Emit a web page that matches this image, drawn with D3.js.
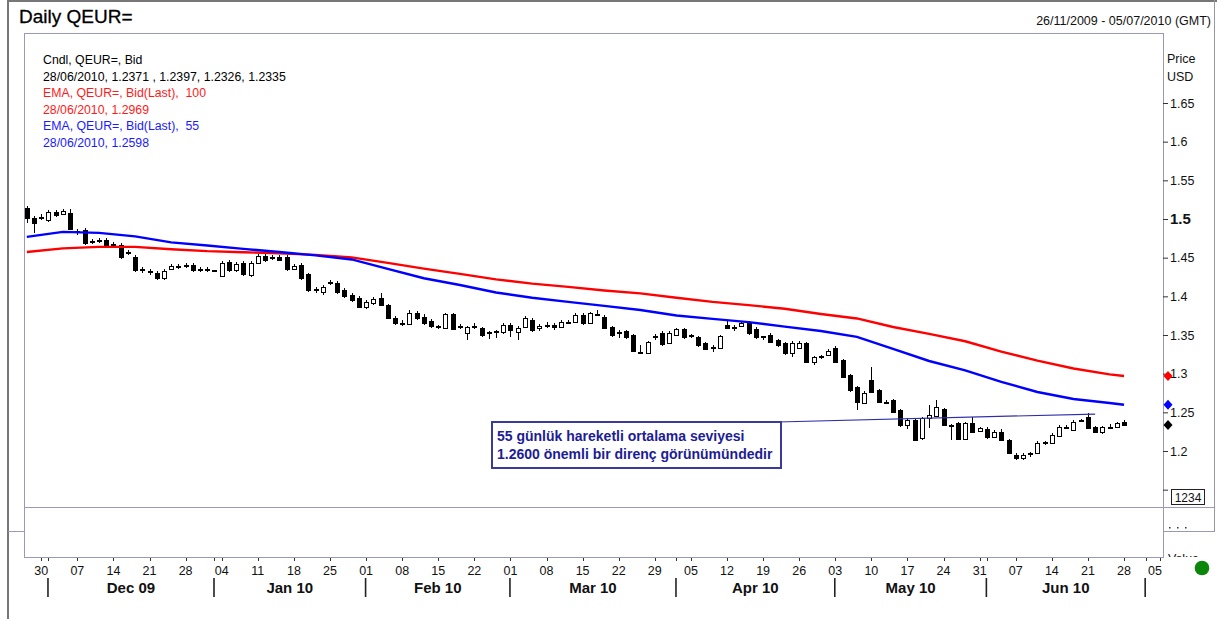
<!DOCTYPE html>
<html>
<head>
<meta charset="utf-8">
<script src="https://cdn.jsdelivr.net/npm/d3@7"></script>
<style>
body { margin: 0; background: #fff; }
svg { display: block; font-family: "Liberation Sans", Arial, sans-serif; }
</style>
</head>
<body>
<div id="chart"></div>
<script>
// daily candles, 26/11/2009 .. 28/06/2010 (weekdays)
var opens = [1.5144,1.5014,1.5020,1.4988,1.5092,1.5066,1.5079,1.4840,1.4859,1.4710,
 1.4723,1.4730,1.4671,1.4665,1.4568,1.4510,1.4348,1.4322,1.4303,1.4238,
 1.4355,1.4386,1.4399,1.4406,1.4348,1.4342,1.4335,1.4264,1.4445,1.4342,
 1.4432,1.4277,1.4432,1.4523,1.4504,1.4510,1.4510,1.4355,1.4406,1.4290,
 1.4089,1.4057,1.4180,1.4173,1.4083,1.4018,1.3979,1.3862,1.3914,1.3979,
 1.3888,1.3720,1.3661,1.3642,1.3785,1.3733,1.3681,1.3610,1.3591,1.3772,
 1.3610,1.3526,1.3610,1.3591,1.3533,1.3546,1.3539,1.3629,1.3539,1.3604,
 1.3694,1.3591,1.3635,1.3629,1.3604,1.3674,1.3668,1.3759,1.3655,1.3778,
 1.3733,1.3604,1.3526,1.3552,1.3500,1.3281,1.3268,1.3481,1.3526,1.3397,
 1.3500,1.3578,1.3494,1.3475,1.3397,1.3339,1.3332,1.3629,1.3597,1.3617,
 1.3655,1.3578,1.3481,1.3500,1.3436,1.3397,1.3268,1.3332,1.3397,1.3151,
 1.3223,1.3242,1.3332,1.3177,1.2983,1.2828,1.2621,1.2919,1.2789,1.2640,
 1.2660,1.2530,1.2336,1.2401,1.2168,1.2427,1.2453,1.2543,1.2342,1.2362,
 1.2155,1.2362,1.2259,1.2284,1.2181,1.2246,1.2142,1.1949,1.1910,1.1968,
 1.1975,1.2110,1.2103,1.2194,1.2316,1.2271,1.2395,1.2440,1.2310,1.2246,
 1.2316,1.2310,1.2371];
var highs = [1.5170,1.5040,1.5066,1.5118,1.5118,1.5131,1.5131,1.4872,1.4885,1.4743,
 1.4749,1.4756,1.4704,1.4691,1.4600,1.4536,1.4380,1.4355,1.4329,1.4355,
 1.4419,1.4419,1.4432,1.4432,1.4380,1.4374,1.4342,1.4458,1.4471,1.4445,
 1.4458,1.4458,1.4549,1.4549,1.4536,1.4536,1.4536,1.4419,1.4432,1.4303,
 1.4122,1.4148,1.4212,1.4199,1.4109,1.4044,1.4005,1.3953,1.3992,1.4044,
 1.3901,1.3746,1.3694,1.3824,1.3811,1.3772,1.3707,1.3629,1.3785,1.3785,
 1.3642,1.3617,1.3655,1.3604,1.3552,1.3565,1.3655,1.3655,1.3617,1.3746,
 1.3720,1.3642,1.3668,1.3655,1.3694,1.3694,1.3785,1.3785,1.3798,1.3824,
 1.3759,1.3617,1.3565,1.3565,1.3513,1.3371,1.3423,1.3513,1.3552,1.3552,
 1.3591,1.3591,1.3513,1.3488,1.3410,1.3371,1.3500,1.3681,1.3629,1.3681,
 1.3681,1.3604,1.3488,1.3526,1.3449,1.3410,1.3423,1.3423,1.3410,1.3229,
 1.3242,1.3320,1.3358,1.3190,1.2996,1.2841,1.2776,1.3087,1.2802,1.2660,
 1.2673,1.2543,1.2427,1.2414,1.2440,1.2595,1.2660,1.2556,1.2349,1.2375,
 1.2375,1.2440,1.2310,1.2310,1.2271,1.2284,1.2155,1.1975,1.1975,1.1988,
 1.2129,1.2129,1.2233,1.2336,1.2336,1.2401,1.2414,1.2491,1.2323,1.2323,
 1.2349,1.2375,1.2397];
var lows = [1.4949,1.4820,1.4988,1.4962,1.5027,1.5053,1.4859,1.4794,1.4665,1.4678,
 1.4691,1.4626,1.4639,1.4484,1.4536,1.4316,1.4303,1.4277,1.4212,1.4212,
 1.4342,1.4355,1.4367,1.4316,1.4316,1.4310,1.4322,1.4251,1.4316,1.4316,
 1.4264,1.4251,1.4419,1.4445,1.4471,1.4458,1.4329,1.4342,1.4212,1.4057,
 1.4044,1.4018,1.4148,1.4031,1.3979,1.3927,1.3849,1.3836,1.3888,1.3875,
 1.3707,1.3629,1.3617,1.3629,1.3694,1.3629,1.3591,1.3578,1.3578,1.3565,
 1.3578,1.3436,1.3578,1.3475,1.3449,1.3462,1.3513,1.3475,1.3436,1.3591,
 1.3539,1.3552,1.3591,1.3565,1.3591,1.3642,1.3655,1.3629,1.3642,1.3746,
 1.3578,1.3475,1.3462,1.3449,1.3281,1.3255,1.3255,1.3436,1.3358,1.3384,
 1.3488,1.3449,1.3462,1.3345,1.3307,1.3281,1.3320,1.3578,1.3552,1.3604,
 1.3500,1.3449,1.3436,1.3397,1.3345,1.3242,1.3216,1.3320,1.3138,1.3113,
 1.3190,1.3229,1.3138,1.2944,1.2763,1.2530,1.2608,1.2750,1.2621,1.2608,
 1.2491,1.2310,1.2284,1.2129,1.2142,1.2297,1.2440,1.2323,1.2142,1.2142,
 1.2142,1.2233,1.2246,1.2155,1.2168,1.2129,1.1962,1.1884,1.1884,1.1923,
 1.1962,1.2078,1.2090,1.2181,1.2284,1.2259,1.2375,1.2284,1.2233,1.2220,
 1.2284,1.2297,1.2326];
var closes = [1.5014,1.4949,1.5027,1.5092,1.5053,1.5105,1.4872,1.4833,1.4691,1.4704,
 1.4717,1.4652,1.4665,1.4510,1.4561,1.4342,1.4342,1.4316,1.4238,1.4329,
 1.4393,1.4380,1.4393,1.4342,1.4342,1.4348,1.4329,1.4432,1.4342,1.4419,
 1.4290,1.4432,1.4523,1.4471,1.4497,1.4471,1.4355,1.4393,1.4238,1.4083,
 1.4083,1.4122,1.4173,1.4057,1.4005,1.3953,1.3862,1.3927,1.3966,1.3888,
 1.3720,1.3655,1.3655,1.3785,1.3720,1.3655,1.3617,1.3604,1.3772,1.3578,
 1.3604,1.3604,1.3604,1.3500,1.3526,1.3539,1.3629,1.3565,1.3591,1.3720,
 1.3565,1.3617,1.3629,1.3604,1.3668,1.3668,1.3759,1.3655,1.3785,1.3772,
 1.3591,1.3500,1.3539,1.3475,1.3294,1.3268,1.3410,1.3475,1.3384,1.3526,
 1.3578,1.3475,1.3488,1.3371,1.3320,1.3332,1.3488,1.3591,1.3591,1.3655,
 1.3526,1.3475,1.3475,1.3410,1.3371,1.3268,1.3397,1.3397,1.3151,1.3216,
 1.3216,1.3294,1.3151,1.2957,1.2789,1.2634,1.2750,1.2763,1.2634,1.2634,
 1.2504,1.2336,1.2401,1.2142,1.2427,1.2465,1.2569,1.2336,1.2336,1.2155,
 1.2362,1.2246,1.2297,1.2181,1.2246,1.2142,1.1975,1.1910,1.1949,1.1962,
 1.2103,1.2103,1.2207,1.2310,1.2310,1.2375,1.2388,1.2297,1.2246,1.2310,
 1.2310,1.2362,1.2335];

var emaDays = [0,5,10,15,20,25,30,35,40,45,50,55,60,65,70,75,80,85,90,95,100,105,110,115,120,125,130,135,140,145,150,152];
var ema55 = [1.4769,1.4833,1.4820,1.4775,1.4697,1.4658,1.4613,1.4574,1.4529,1.4477,1.4355,1.4234,1.4147,1.4050,1.3982,1.3928,1.3876,1.3824,1.3753,1.3708,1.3666,1.3609,1.3552,1.3475,1.3320,1.3164,1.3042,1.2893,1.2763,1.2673,1.2621,1.2598];
var ema100 = [1.4574,1.4620,1.4639,1.4639,1.4609,1.4584,1.4571,1.4555,1.4536,1.4503,1.4432,1.4358,1.4290,1.4219,1.4164,1.4122,1.4076,1.4038,1.3981,1.3928,1.3886,1.3840,1.3772,1.3714,1.3604,1.3514,1.3419,1.3285,1.3168,1.3067,1.2991,1.2969];

// hand drawn resistance line
var trendDates = ["2010-04-21", "2010-06-22"];
var trendValues = [1.2375, 1.2478];

var yTicks = [1.15, 1.2, 1.25, 1.3, 1.35, 1.4, 1.45, 1.5, 1.55, 1.6, 1.65];
var monthLabels = ["Dec 09", "Jan 10", "Feb 10", "Mar 10", "Apr 10", "May 10", "Jun 10"];
var legendLines = [
  ["Cndl, QEUR=, Bid", "#000"],
  ["28/06/2010, 1.2371 , 1.2397, 1.2326, 1.2335", "#000"],
  ["EMA, QEUR=, Bid(Last),  100", "#ff1a1a"],
  ["28/06/2010, 1.2969", "#ff1a1a"],
  ["EMA, QEUR=, Bid(Last),  55", "#1a1aff"],
  ["28/06/2010, 1.2598", "#1a1aff"]
];
var noteLines = ["55 günlük hareketli ortalama seviyesi", "1.2600 önemli bir direnç görünümündedir"];

var width = 1217, height = 619;
var plotLeft = 24, plotRight = 1163, plotTop = 33, priceBottom = 507, panelBottom = 557;

// trading days (weekdays) from 26/11/2009 to 05/07/2010
var days = d3.timeDay.range(new Date(2009, 10, 26), new Date(2010, 6, 6))
  .filter(function(d){ return d.getDay() !== 0 && d.getDay() !== 6; });
var dayKey = d3.timeFormat("%Y-%m-%d");
function dayIndex(s) {
  return days.findIndex(function(d){ return dayKey(d) === s; });
}

var x = d3.scaleLinear().domain([-0.39, 157.4]).range([plotLeft, plotRight]);
var y = d3.scaleLinear().domain([1.2, 1.65]).range([451, 103]);

var svg = d3.select("#chart").append("svg")
  .attr("width", width)
  .attr("height", height);

var defs = svg.append("defs");
defs.append("clipPath").attr("id", "plotClip")
  .append("rect").attr("x", plotLeft + 1).attr("y", plotTop + 1)
  .attr("width", plotRight - plotLeft - 1).attr("height", priceBottom - plotTop - 1);
defs.append("clipPath").attr("id", "valueClip")
  .append("rect").attr("x", plotRight).attr("y", 531).attr("width", 60).attr("height", 26);

// outer window frame
svg.append("line").attr("x1", 8).attr("x2", 8).attr("y1", 0).attr("y2", height)
  .attr("stroke", "#777").attr("stroke-width", 2);
svg.append("line").attr("x1", 7).attr("x2", width).attr("y1", 1).attr("y2", 1)
  .attr("stroke", "#777").attr("stroke-width", 2);
svg.append("line").attr("x1", 1214.5).attr("x2", 1214.5).attr("y1", 0).attr("y2", 531)
  .attr("stroke", "#999");

// title and period
svg.append("text").attr("x", 19).attr("y", 23)
  .attr("font-size", 19).attr("fill", "#000").attr("stroke", "#000").attr("stroke-width", 0.3)
  .text("Daily QEUR=");
svg.append("text").attr("x", 1211).attr("y", 25).attr("text-anchor", "end")
  .attr("font-size", 12.5).attr("fill", "#111").text("26/11/2009 - 05/07/2010 (GMT)");

// plot frame and panel separators
var frameColor = "#9a9ab8";
svg.append("rect").attr("x", plotLeft + 0.5).attr("y", plotTop + 0.5)
  .attr("width", plotRight - plotLeft).attr("height", panelBottom - plotTop)
  .attr("fill", "none").attr("stroke", frameColor);
svg.append("line").attr("x1", plotLeft).attr("x2", 1215).attr("y1", priceBottom + 0.5).attr("y2", priceBottom + 0.5)
  .attr("stroke", frameColor);
svg.append("line").attr("x1", 8).attr("x2", plotLeft).attr("y1", 531.5).attr("y2", 531.5)
  .attr("stroke", frameColor);
svg.append("line").attr("x1", plotRight).attr("x2", 1215).attr("y1", 531.5).attr("y2", 531.5)
  .attr("stroke", frameColor);

// legend
svg.append("g").selectAll("text")
  .data(legendLines)
  .enter()
  .append("text")
  .attr("x", 43)
  .attr("y", function(d, i){ return 64 + i * 16.6; })
  .attr("font-size", 12.3)
  .attr("fill", function(d){ return d[1]; })
  .attr("xml:space", "preserve")
  .style("white-space", "pre")
  .text(function(d){ return d[0]; });

// right price axis
var yAxis = d3.axisRight(y).tickValues(yTicks).tickSize(5).tickPadding(2)
  .tickFormat(function(d){ return d === 1.15 ? "" : String(+d.toFixed(2)); });
var yAxisGroup = svg.append("g").attr("transform", "translate(" + plotRight + ",0)").call(yAxis);
yAxisGroup.select(".domain").remove();
yAxisGroup.selectAll("line").attr("stroke", "#333");
yAxisGroup.selectAll("text")
  .attr("font-family", "Liberation Sans, Arial, sans-serif")
  .attr("fill", "#111")
  .attr("font-weight", function(d){ return d === 1.5 ? "bold" : "normal"; })
  .style("font-size", function(d){ return d === 1.5 ? "15px" : "12.5px"; });
svg.append("text").attr("x", 1167).attr("y", 63).attr("font-size", 12.5).attr("fill", "#111").text("Price");
svg.append("text").attr("x", 1167).attr("y", 81).attr("font-size", 12.5).attr("fill", "#111").text("USD");
svg.append("rect").attr("x", 1171.5).attr("y", 489.5).attr("width", 33).attr("height", 15)
  .attr("fill", "#fff").attr("stroke", "#222");
svg.append("text").attr("x", 1188).attr("y", 501.5).attr("text-anchor", "middle")
  .attr("font-size", 12).attr("fill", "#111").text("1234");

// lower panel leftovers
svg.append("g").selectAll("rect").data([1169, 1177, 1185]).enter().append("rect")
  .attr("x", function(d){ return d; }).attr("y", 527).attr("width", 1.5).attr("height", 1.5)
  .attr("fill", "#333");
svg.append("text").attr("x", 1168).attr("y", 563).attr("font-size", 12.5).attr("fill", "#111")
  .attr("clip-path", "url(#valueClip)").text("Value");
svg.append("circle").attr("cx", 1202).attr("cy", 568).attr("r", 7.3).attr("fill", "#0a870a");

// candles
var plot = svg.append("g").attr("clip-path", "url(#plotClip)");
var candles = d3.range(closes.length).map(function(i){
  return { i: i, o: opens[i], h: highs[i], l: lows[i], c: closes[i] };
});
var candleGroups = plot.append("g").selectAll("g")
  .data(candles)
  .enter()
  .append("g")
  .attr("transform", function(d){ return "translate(" + Math.round(x(d.i)) + ",0)"; });

candleGroups.append("line")
  .attr("x1", 0.5).attr("x2", 0.5)
  .attr("y1", function(d){ return Math.round(y(d.h)); })
  .attr("y2", function(d){ return Math.round(y(d.l)); })
  .attr("stroke", "#000").attr("shape-rendering", "crispEdges");

candleGroups.append("rect")
  .attr("x", -1.5)
  .attr("y", function(d){ return Math.round(y(Math.max(d.o, d.c))) + 0.5; })
  .attr("width", 4)
  .attr("height", function(d){ return Math.max(1, Math.round(Math.abs(y(d.o) - y(d.c)))); })
  .attr("fill", function(d){ return d.c < d.o ? "#000" : "#fff"; })
  .attr("stroke", "#000")
  .attr("shape-rendering", "crispEdges");

// moving averages
var emaLine = d3.line()
  .x(function(d){ return x(d[0]); })
  .y(function(d){ return y(d[1]); });
plot.append("path")
  .datum(emaDays.map(function(d, i){ return [d, ema100[i]]; }))
  .attr("d", emaLine).attr("fill", "none").attr("stroke", "#ff0000").attr("stroke-width", 2.4);
plot.append("path")
  .datum(emaDays.map(function(d, i){ return [d, ema55[i]]; }))
  .attr("d", emaLine).attr("fill", "none").attr("stroke", "#0000ff").attr("stroke-width", 2.4);

// resistance line and note
plot.append("line")
  .attr("x1", x(dayIndex(trendDates[0]))).attr("x2", x(dayIndex(trendDates[1])))
  .attr("y1", y(trendValues[0])).attr("y2", y(trendValues[1]))
  .attr("stroke", "#2e2ea8").attr("stroke-width", 1.2);
svg.append("rect").attr("x", 492).attr("y", 422).attr("width", 289).attr("height", 46)
  .attr("fill", "#fff").attr("stroke", "#3a3a9a").attr("stroke-width", 2);
svg.append("g").selectAll("text")
  .data(noteLines)
  .enter()
  .append("text")
  .attr("x", 497)
  .attr("y", function(d, i){ return 441 + i * 17.5; })
  .attr("font-size", 14).attr("font-weight", "bold").attr("fill", "#1c1c95")
  .text(function(d){ return d; });

// last-value markers on the price axis
var markers = [[ema100[ema100.length - 1], "#ff0000"], [ema55[ema55.length - 1], "#0000ff"], [closes[closes.length - 1], "#000"]];
svg.append("g").selectAll("path")
  .data(markers)
  .enter()
  .append("path")
  .attr("d", function(d){
    var cx = 1168, cy = y(d[0]);
    return "M" + cx + "," + (cy - 5) + "L" + (cx + 4.5) + "," + cy + "L" + cx + "," + (cy + 5) + "L" + (cx - 4.5) + "," + cy + "Z";
  })
  .attr("fill", function(d){ return d[1]; });

// time axis: weekly ticks, month starts
var mondays = [], monthStarts = [];
days.forEach(function(d, i){
  if (d.getDay() === 1) mondays.push(i);
  if (i > 0 && d.getMonth() !== days[i - 1].getMonth()) monthStarts.push(i);
});
var tickDays = mondays.concat(monthStarts);
svg.append("g").selectAll("line")
  .data(tickDays)
  .enter()
  .append("line")
  .attr("x1", function(d){ return Math.round(x(d)) + 0.5; })
  .attr("x2", function(d){ return Math.round(x(d)) + 0.5; })
  .attr("y1", 558).attr("y2", 561)
  .attr("stroke", "#333");
svg.append("g").selectAll("text")
  .data(mondays)
  .enter()
  .append("text")
  .attr("x", function(d){ return Math.min(x(d), 1155); })
  .attr("y", 575)
  .attr("text-anchor", "middle")
  .attr("font-size", 12.5)
  .attr("fill", "#111")
  .text(function(d){ return d3.timeFormat("%d")(days[d]); });

var sepX = monthStarts.map(function(d){ return x(d) - 0.5; });
svg.append("g").selectAll("line")
  .data(sepX)
  .enter()
  .append("line")
  .attr("x1", function(d){ return d; }).attr("x2", function(d){ return d; })
  .attr("y1", 578).attr("y2", 597)
  .attr("stroke", "#222").attr("stroke-width", 1.6);
svg.append("g").selectAll("text")
  .data(monthLabels)
  .enter()
  .append("text")
  .attr("x", function(d, i){ return (sepX[i] + sepX[i + 1]) / 2; })
  .attr("y", 593)
  .attr("text-anchor", "middle")
  .attr("font-size", 15)
  .attr("font-weight", "bold")
  .attr("fill", "#111")
  .text(function(d){ return d; });
</script>
</body>
</html>
